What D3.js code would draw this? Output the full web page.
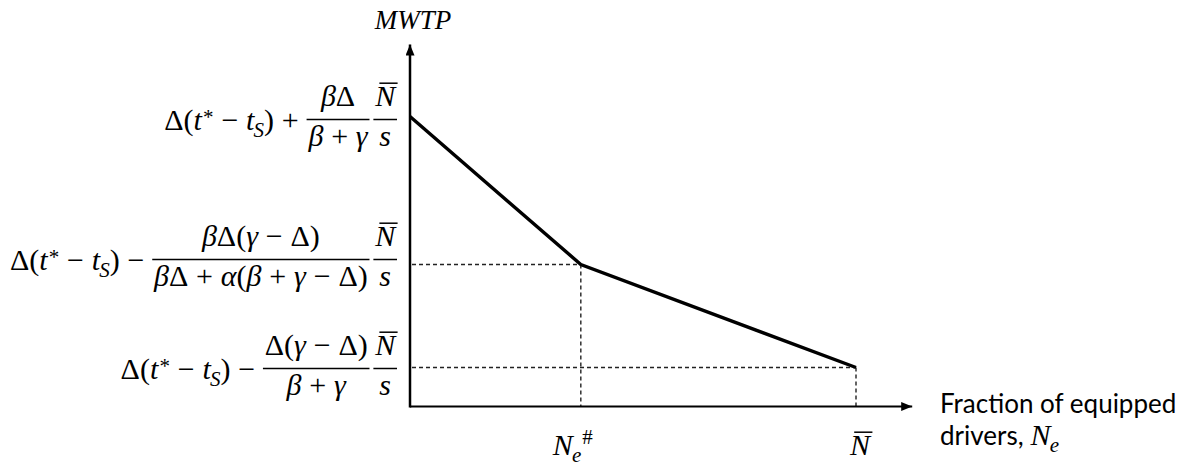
<!DOCTYPE html>
<html>
<head>
<meta charset="utf-8">
<script src="https://cdn.jsdelivr.net/npm/d3@7"></script>
<style>
  body { margin: 0; background: #fff; }
  svg { display: block; }
</style>
</head>
<body>
<svg id="chart" width="1191" height="466"></svg>
<script>
// Kink points of the MWTP schedule: share of equipped drivers (N̄ = 1)
const fractionEquipped = [0, 0.383, 1];
// Marginal willingness to pay at those points
const mwtp = [290, 142, 39];
// Axis extents (arrow tips)
const xAxisMax = 1.126;
const yAxisMax = 362;

// Formula pieces: t = text, i = italic, sub/sup = scripts, bar = overline,
// op = binary operator, frac = [numerator, denominator]
const nBarOverS = { frac: [[{ t: "N", i: 1, bar: 1 }], [{ t: "s", i: 1 }]] };
const leadTerm = [
  { t: "Δ(" }, { t: "t", i: 1, sup: "*" }, { op: "−" },
  { t: "t", i: 1, sub: "S" }, { t: ")" }
];
const yTickLabels = [
  [...leadTerm, { op: "+" },
    { frac: [[{ t: "β", i: 1 }, { t: "Δ" }],
             [{ t: "β", i: 1 }, { op: "+" }, { t: "γ", i: 1 }]] },
    nBarOverS],
  [...leadTerm, { op: "−" },
    { frac: [[{ t: "β", i: 1 }, { t: "Δ(" }, { t: "γ", i: 1 }, { op: "−" }, { t: "Δ)" }],
             [{ t: "β", i: 1 }, { t: "Δ" }, { op: "+" }, { t: "α", i: 1 }, { t: "(" },
              { t: "β", i: 1 }, { op: "+" }, { t: "γ", i: 1 }, { op: "−" }, { t: "Δ)" }]] },
    nBarOverS],
  [...leadTerm, { op: "−" },
    { frac: [[{ t: "Δ(" }, { t: "γ", i: 1 }, { op: "−" }, { t: "Δ)" }],
             [{ t: "β", i: 1 }, { op: "+" }, { t: "γ", i: 1 }]] },
    nBarOverS]
];
const xTickLabels = [
  [{ t: "N", i: 1, sub: "e", sup: "#" }],
  [{ t: "N", i: 1, bar: 1 }]
];
const yTitle = "MWTP";
const xTitleLines = ["Fraction of equipped", "drivers,"];

const mathFont = "'Liberation Serif', 'DejaVu Serif', serif";
const textFont = "Lato, 'Open Sans', sans-serif";
const F = 30;

const svg = d3.select("#chart");
const x = d3.scaleLinear().domain([0, 1]).range([410, 856]);
const y = d3.scaleLinear().domain([0, yAxisMax]).range([406.5, 44.5]);

// Lays out a row of formula pieces from x = 0 on baseline 0; returns its width
function drawRun(g, pieces, size) {
  let cx = 0;
  let prevFrac = false;
  const medium = size * 0.26;
  pieces.forEach(p => {
    if (p.frac) {
      if (prevFrac) cx += size * 0.13;
      const num = g.append("g"), den = g.append("g");
      const wn = drawRun(num, p.frac[0], size);
      const wd = drawRun(den, p.frac[1], size);
      const pad = size * 0.06;
      const w = Math.max(wn, wd) + 2 * pad;
      const axis = -size * 0.34;
      num.attr("transform", `translate(${cx + (w - wn) / 2},${axis - size * 0.45})`);
      den.attr("transform", `translate(${cx + (w - wd) / 2},${axis + size * 0.88})`);
      g.append("line")
        .attr("x1", cx).attr("x2", cx + w)
        .attr("y1", axis).attr("y2", axis)
        .attr("stroke", "#000").attr("stroke-width", size * 0.05);
      cx += w;
      prevFrac = true;
      return;
    }
    prevFrac = false;
    if (p.op) {
      cx += medium;
      const t = g.append("text").attr("x", cx).attr("y", 0).text(p.op);
      cx += t.node().getComputedTextLength() + medium;
      return;
    }
    // base glyphs and their scripts live in one text element
    const t = g.append("text");
    const base = t.append("tspan")
      .attr("x", cx).attr("y", 0)
      .attr("font-style", p.i ? "italic" : "normal")
      .text(p.t);
    const w = base.node().getComputedTextLength();
    if (p.bar) {
      g.append("line")
        .attr("x1", cx + size * 0.14).attr("x2", cx + w + size * 0.08)
        .attr("y1", -size * 0.76).attr("y2", -size * 0.76)
        .attr("stroke", "#000").attr("stroke-width", size * 0.05);
    }
    const subOff = p.i ? -size * 0.03 : 0;
    let supOff = p.i ? size * 0.04 : 0;
    let sw = 0;
    if (p.sub) {
      const ts = t.append("tspan")
        .attr("x", cx + w + subOff).attr("y", size * 0.24)
        .attr("font-size", size * 0.7)
        .attr("font-style", "italic").text(p.sub);
      const sl = ts.node().getComputedTextLength();
      sw = Math.max(sw, sl + subOff);
      // with both scripts, the superscript sits just past the subscript
      if (p.sup) supOff = subOff + sl + 1;
    }
    if (p.sup) {
      const ts = t.append("tspan")
        .attr("x", cx + w + supOff)
        .attr("y", p.sup === "*" ? -size * 0.18 : -size * 0.36)
        .attr("font-size", size * 0.7)
        .attr("font-style", "normal")
        .text(p.sup);
      sw = Math.max(sw, ts.node().getComputedTextLength() + supOff);
    }
    cx += w + sw;
  });
  return cx;
}

function draw() {
  // Guide lines from each kink to both axes
  const guides = svg.append("g")
    .attr("stroke", "#222").attr("stroke-width", 1.4)
    .attr("stroke-dasharray", "4,3").attr("fill", "none");
  fractionEquipped.slice(1).forEach((f, k) => {
    const v = mwtp[k + 1];
    guides.append("line")
      .attr("x1", x(0) + 2).attr("x2", x(f))
      .attr("y1", y(v)).attr("y2", y(v));
    guides.append("line")
      .attr("x1", x(f)).attr("x2", x(f))
      .attr("y1", y(v)).attr("y2", y(0));
  });

  // Arrowhead marker
  svg.append("defs").append("marker")
    .attr("id", "arrow")
    .attr("markerUnits", "userSpaceOnUse")
    .attr("markerWidth", 12).attr("markerHeight", 10)
    .attr("refX", 11).attr("refY", 4.5)
    .attr("orient", "auto")
    .append("path").attr("d", "M0,0L11,4.5L0,9Z").attr("fill", "#000");

  // Axes
  svg.append("line")
    .attr("x1", x(0)).attr("x2", x(xAxisMax))
    .attr("y1", y(0)).attr("y2", y(0))
    .attr("stroke", "#000").attr("stroke-width", 2.2)
    .attr("marker-end", "url(#arrow)");
  svg.append("line")
    .attr("x1", x(0)).attr("x2", x(0))
    .attr("y1", y(0) + 1).attr("y2", y(yAxisMax))
    .attr("stroke", "#000").attr("stroke-width", 2.5)
    .attr("marker-end", "url(#arrow)");

  // MWTP schedule
  const pts = fractionEquipped.map((f, k) => [f, mwtp[k]]);
  svg.append("path")
    .datum(pts)
    .attr("d", d3.line().x(d => x(d[0])).y(d => y(d[1])))
    .attr("fill", "none").attr("stroke", "#000")
    .attr("stroke-width", 3.4).attr("stroke-linejoin", "miter");

  // Vertical-axis labels: right-aligned formulas, fraction bar near each level
  const barNudge = [3, -5, 1];
  yTickLabels.forEach((pieces, k) => {
    const g = svg.append("g")
      .attr("font-family", mathFont).attr("font-size", F).attr("fill", "#000");
    const w = drawRun(g, pieces, F);
    g.attr("transform", `translate(${397 - w},${y(mwtp[k]) + barNudge[k] + F * 0.34})`);
  });

  // Horizontal-axis labels
  const xLabelShift = [-28, -6];
  xTickLabels.forEach((pieces, k) => {
    const g = svg.append("g")
      .attr("font-family", mathFont).attr("font-size", F).attr("fill", "#000");
    drawRun(g, pieces, F);
    g.attr("transform", `translate(${x(fractionEquipped[k + 1]) + xLabelShift[k]},455)`);
  });

  // Axis titles
  svg.append("text")
    .attr("x", x(0) + 3).attr("y", 29)
    .attr("text-anchor", "middle")
    .attr("font-family", mathFont).attr("font-style", "italic")
    .attr("font-size", 27)
    .text(yTitle);

  svg.append("text")
    .attr("x", 940).attr("y", 413)
    .attr("font-family", textFont).attr("font-size", 26)
    .text(xTitleLines[0]);
  const line2 = svg.append("text")
    .attr("x", 940).attr("y", 445)
    .attr("font-family", textFont).attr("font-size", 26)
    .text(xTitleLines[1]);
  const w2 = line2.node().getComputedTextLength();
  const ne = svg.append("g")
    .attr("font-family", mathFont).attr("font-size", F);
  drawRun(ne, [{ t: "N", i: 1, sub: "e" }], F);
  ne.attr("transform", `translate(${940 + w2 + 7},445)`);
}

(document.fonts && document.fonts.ready ? document.fonts.ready : Promise.resolve()).then(draw);
</script>
</body>
</html>
